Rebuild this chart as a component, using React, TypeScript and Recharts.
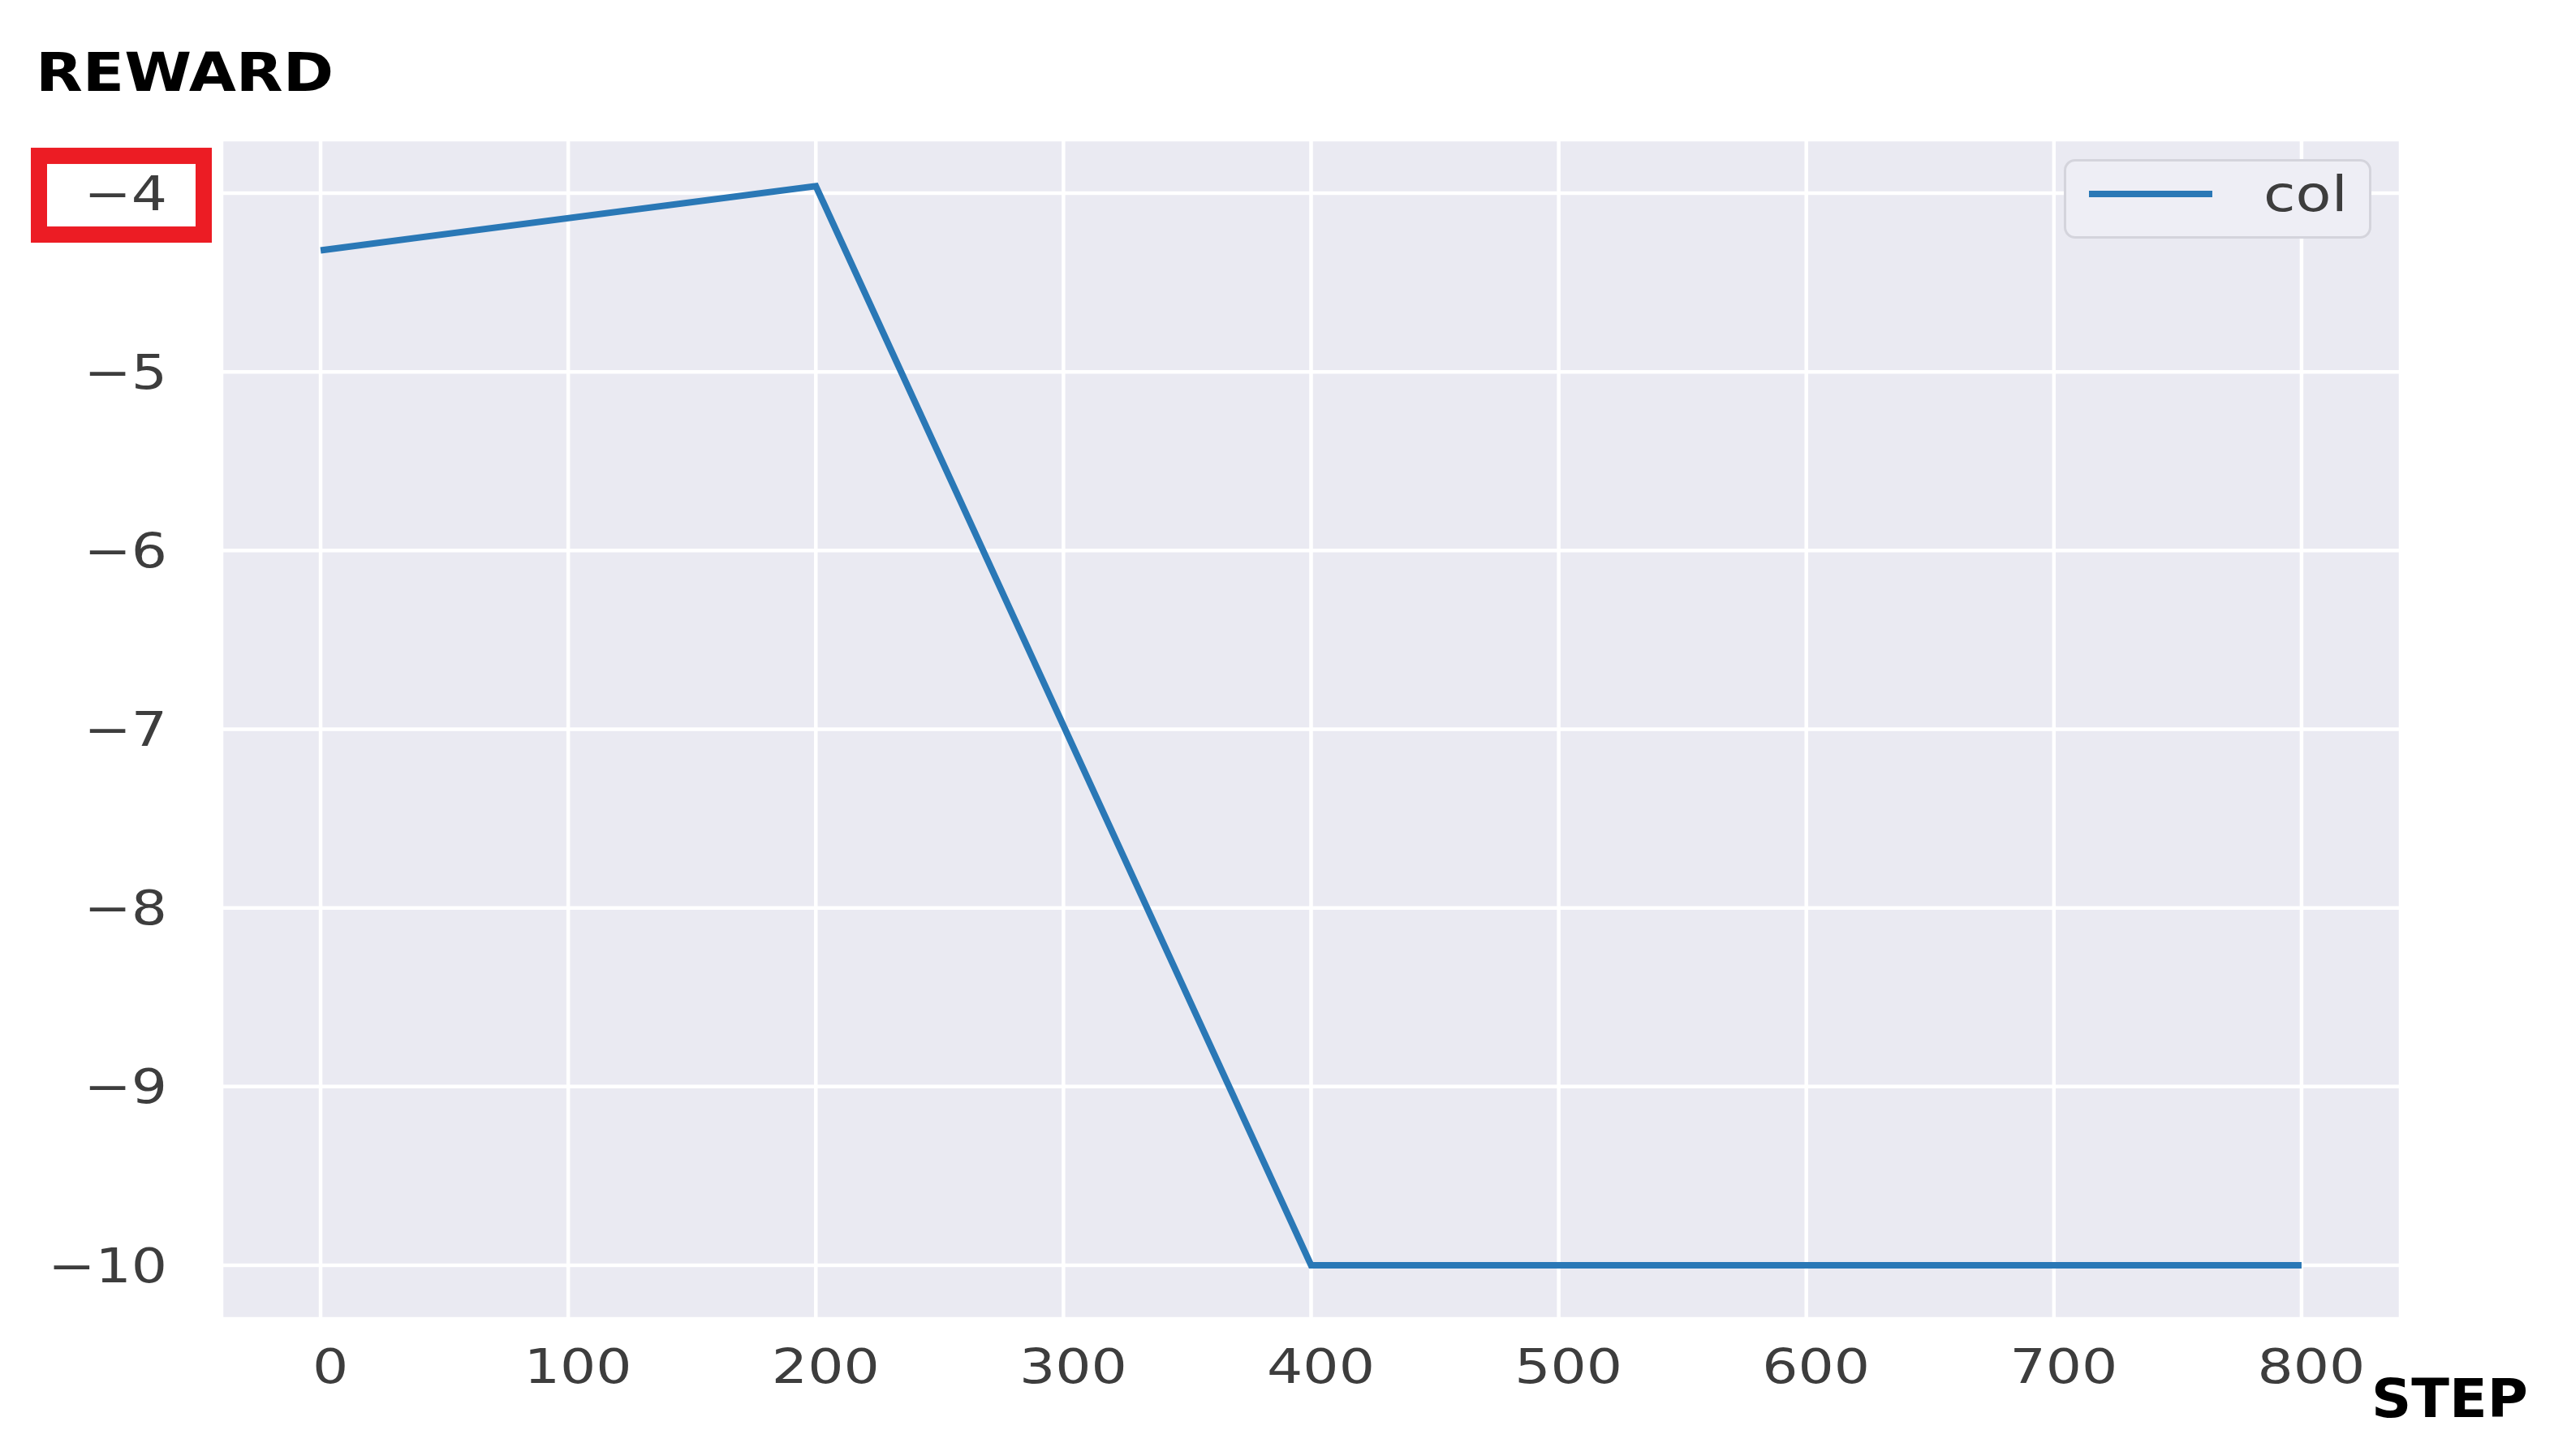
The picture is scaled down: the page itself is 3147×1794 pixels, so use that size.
import React from 'react';
import { CartesianGrid, Label, Legend, Line, LineChart, XAxis, YAxis } from 'recharts';

const steps = [0, 200, 400, 600, 800];
const rewards = [-4.32, -3.96, -10, -10, -10];
const seriesName = 'col';
const xTicks = [0, 100, 200, 300, 400, 500, 600, 700, 800];
const yTicks = [-10, -9, -8, -7, -6, -5, -4];
const highlightedTick = -4;

const data = steps.map((step, i) => ({ step, reward: rewards[i] }));

const tickFont = 'DejaVu Sans, Verdana, sans-serif';
const tickColor = '#3d3d3d';
const stretch = 1.2;

const fmt = (v: number) => (v < 0 ? '\u2212' + Math.abs(v) : String(v));

function YTick(props: any) {
  const { x, y, payload } = props;
  const boxed = payload.value === highlightedTick;
  return (
    <g>
      {boxed && (
        <rect x={x - 223} y={y - 46} width={203} height={97} fill="#ffffff" stroke="#ec1c24" strokeWidth={20} />
      )}
      <g transform={`translate(${x - 65}, ${y}) scale(${stretch}, 1)`}>
        <text x={0} y={0} dy="0.355em" textAnchor="end" fontFamily={tickFont} fontSize={58} fill={tickColor}>
          {fmt(payload.value)}
        </text>
      </g>
    </g>
  );
}

function XTick(props: any) {
  const { x, y, payload } = props;
  return (
    <g transform={`translate(${x + 12}, ${y + 77}) scale(${stretch}, 1)`}>
      <text x={0} y={0} textAnchor="middle" fontFamily={tickFont} fontSize={58} fill={tickColor}>
        {fmt(payload.value)}
      </text>
    </g>
  );
}

function LegendBox({ payload }: any) {
  const item = payload && payload[0];
  return (
    <div
      style={{
        boxSizing: 'border-box',
        width: 379,
        height: 98,
        border: '3px solid #d4d4dc',
        borderRadius: 14,
        background: '#eeeef5',
        position: 'relative',
      }}
    >
      <svg width={200} height={90} style={{ position: 'absolute', left: 0, top: 0 }}>
        <line x1={28} x2={180} y1={40} y2={40} stroke={item ? item.color : '#2a78b6'} strokeWidth={8} />
      </svg>
      <span
        style={{
          position: 'absolute',
          left: 243,
          top: 2,
          fontFamily: tickFont,
          fontSize: 60,
          lineHeight: '76px',
          color: tickColor,
          display: 'inline-block',
          transform: `scaleX(${stretch})`,
          transformOrigin: 'left center',
        }}
      >
        {item ? item.value : seriesName}
      </span>
    </div>
  );
}

export default function App() {
  return (
    <div style={{ position: 'absolute', left: 0, top: 0, width: 3147, height: 1794, background: '#ffffff' }}>
      <LineChart width={3147} height={1794} data={data} margin={{ top: 172, right: 189, bottom: 0, left: 0 }}>
        <CartesianGrid fill="#eaeaf2" fillOpacity={1} stroke="#ffffff" strokeWidth={4.5} />
        <XAxis
          dataKey="step"
          type="number"
          domain={[-40, 840]}
          ticks={xTicks}
          interval={0}
          height={169}
          axisLine={false}
          tickLine={false}
          tickSize={0}
          tick={<XTick />}
        >
          <Label
            content={({ viewBox }: any) => (
              <text
                x={viewBox.x + viewBox.width - 36}
                y={viewBox.y + 121}
                fontFamily="DejaVu Sans, Verdana, sans-serif"
                fontWeight="bold"
                fontSize={66}
                fill="#000000"
                textLength={193}
                lengthAdjust="spacingAndGlyphs"
              >
                STEP
              </text>
            )}
          />
        </XAxis>
        <YAxis
          type="number"
          domain={[-10.3, -3.7]}
          ticks={yTicks}
          interval={0}
          width={273}
          axisLine={false}
          tickLine={false}
          tickSize={0}
          tick={<YTick />}
        >
          <Label
            content={({ viewBox }: any) => (
              <text
                x={44}
                y={viewBox.y - 60}
                fontFamily="DejaVu Sans, Verdana, sans-serif"
                fontWeight="bold"
                fontSize={66}
                fill="#000000"
                textLength={367}
                lengthAdjust="spacingAndGlyphs"
              >
                REWARD
              </text>
            )}
          />
        </YAxis>
        <Legend
          layout="vertical"
          align="center"
          verticalAlign="middle"
          wrapperStyle={{ left: 2543, top: 196, width: 379, height: 98 }}
          content={<LegendBox />}
        />
        <Line
          type="linear"
          dataKey="reward"
          name={seriesName}
          stroke="#2a78b6"
          strokeWidth={8}
          dot={false}
          activeDot={false}
          isAnimationActive={false}
        />
      </LineChart>
    </div>
  );
}
